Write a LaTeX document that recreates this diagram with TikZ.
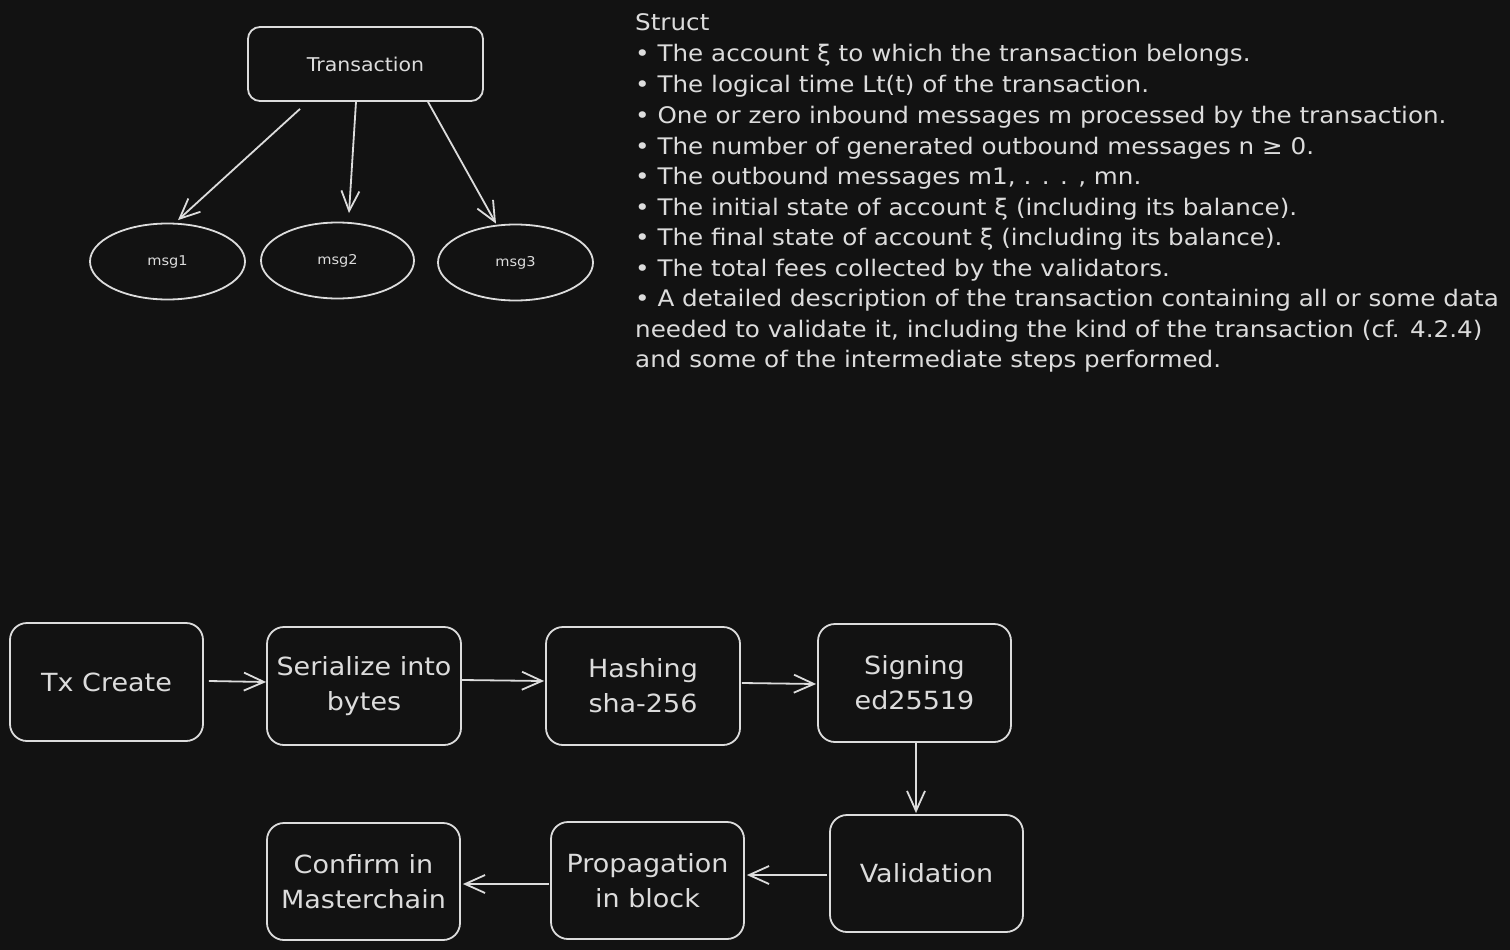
\documentclass[tikz,border=0pt]{standalone}
\usepackage{fontspec}
\setmainfont{DejaVu Sans}
\newfontfamily\widesans{DejaVu Sans}[FakeStretch=1.08]
\usetikzlibrary{arrows.meta,shapes.geometric}
\definecolor{bg}{HTML}{121212}
\definecolor{ink}{HTML}{DCDCDC}
\tikzset{
  x=1pt, y=-1pt,
  stroke/.style={draw=ink, line width=1.8pt},
  box/.style={stroke, rounded corners=17pt, inner sep=0pt, align=center,
    text=ink, font=\widesans\fontsize{25}{35}\selectfont},
  oval/.style={stroke, ellipse, inner sep=0pt, text=ink,
    minimum width=155pt, minimum height=76pt, font=\widesans\fontsize{13.5}{16}\selectfont},
  arr/.style={draw=ink, line width=1.8pt,
    -{Straight Barb[length=20pt,width=18pt,line width=1.8pt]}},
  note/.style={anchor=base west, inner sep=0pt, text=ink,
    font=\widesans\fontsize{22.8}{26}\selectfont},
}
\begin{document}
\begin{tikzpicture}
\fill[bg] (0,0) rectangle (1510,950);
\useasboundingbox (0,0) rectangle (1510,950);

% transaction and its outbound messages
\node[box, minimum width=235pt, minimum height=74pt, rounded corners=12pt,
  font=\widesans\fontsize{19}{22}\selectfont] (trans) at (365.5,64) {Transaction};
\node[oval] (msg1) at (167.5,261.5) {msg1};
\node[oval, minimum width=153pt] (msg2) at (337.5,260.5) {msg2};
\node[oval] (msg3) at (515.5,262.5) {msg3};

\draw[arr] ([xshift=-65.5pt,yshift=-7pt]trans.south) -- ([xshift=10.5pt,yshift=2.5pt]msg1.north);
\draw[arr] ([xshift=-9.5pt]trans.south) -- ([xshift=11.5pt,yshift=8.5pt]msg2.north);
\draw[arr] ([xshift=62.5pt]trans.south) -- ([xshift=-19.5pt]msg3.north);

% transaction fields
\node[note] (l0)  at (635,31)    {Struct};
\node[note] (l1)  at (635,62)    {• The account ξ to which the transaction belongs.};
\node[note] (l2)  at (635,92.5)  {• The logical time Lt(t) of the transaction.};
\node[note] (l3)  at (635,123)   {• One or zero inbound messages m processed by the transaction.};
\node[note] (l4)  at (635,154)   {• The number of generated outbound messages n ≥ 0.};
\node[note] (l5)  at (635,184.5) {• The outbound messages m1, . . . , mn.};
\node[note] (l6)  at (635,215)   {• The initial state of account ξ (including its balance).};
\node[note] (l7)  at (635,245.5) {• The final state of account ξ (including its balance).};
\node[note] (l8)  at (635,276)   {• The total fees collected by the validators.};
\node[note] (l9)  at (635,306.5) {• A detailed description of the transaction containing all or some data};
\node[note] (l10) at (635,337)   {needed to validate it, including the kind of the transaction (cf. 4.2.4)};
\node[note] (l11) at (635,367.5) {and some of the intermediate steps performed.};

% transaction life cycle
\node[box, minimum width=193pt, minimum height=118pt] (tx)   at (106.5,682) {Tx Create};
\node[box, minimum width=194pt, minimum height=118pt] (ser)  at (364,686)   {Serialize into\\bytes};
\node[box, minimum width=194pt, minimum height=118pt] (hash) at (643,686)   {Hashing\\sha-256};
\node[box, minimum width=193pt, minimum height=118pt] (sign) at (914.5,683) {Signing\\ed25519};
\node[box, minimum width=193pt, minimum height=117pt] (val)  at (926.5,873.5) {Validation};
\node[box, minimum width=193pt, minimum height=117pt] (prop) at (647.5,880.5) {Propagation\\in block};
\node[box, minimum width=193pt, minimum height=117pt] (conf) at (363.5,881.5) {Confirm in\\Masterchain};

\draw[arr] ([xshift=5pt,yshift=1pt]tx.east) -- ([yshift=4pt]ser.west);
\draw[arr] ([yshift=6pt]ser.east) -- ([xshift=-1pt,yshift=5pt]hash.west);
\draw[arr] ([xshift=1pt,yshift=3pt]hash.east) -- ([xshift=-1pt,yshift=-1pt]sign.west);
\draw[arr] ([xshift=1.5pt]sign.south) -- ([xshift=-10.5pt,yshift=1pt]val.north);
\draw[arr] ([xshift=-2pt,yshift=-1.5pt]val.west) -- ([xshift=2pt,yshift=5.5pt]prop.east);
\draw[arr] ([xshift=-1pt,yshift=-3.5pt]prop.west) -- ([xshift=2pt,yshift=-2.5pt]conf.east);
\end{tikzpicture}
\end{document}
